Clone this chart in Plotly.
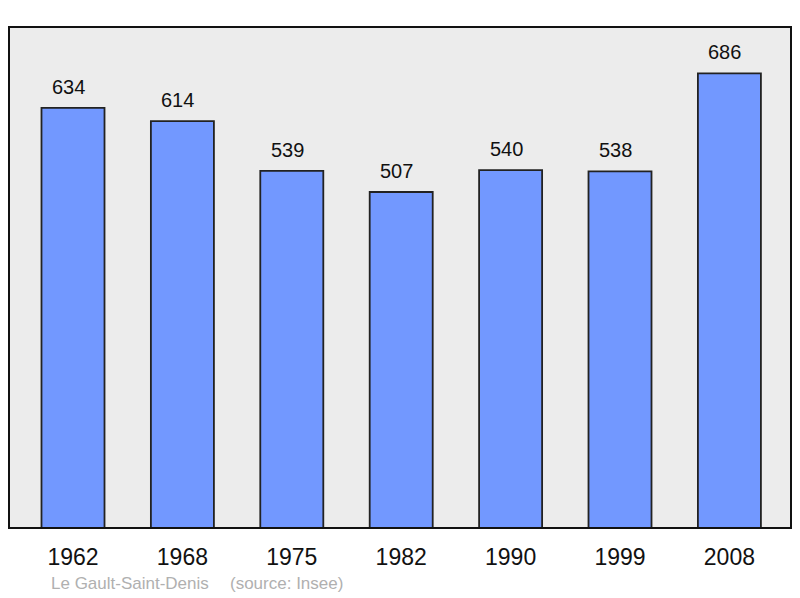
import plotly.graph_objects as go

years = ["1962", "1968", "1975", "1982", "1990", "1999", "2008"]
population = [634, 614, 539, 507, 540, 538, 686]
footer_town = "Le Gault-Saint-Denis"
footer_source = "(source: Insee)"

xs = list(range(len(years)))

fig = go.Figure()
fig.add_trace(go.Bar(
    x=xs, y=population, width=0.576,
    marker=dict(color="#7298ff", line=dict(color="#222222", width=1.8)),
    hoverinfo="skip",
))

for xi, v in zip(xs, population):
    fig.add_annotation(x=xi, y=v, text=str(v), showarrow=False,
                       yanchor="bottom", yshift=8, xshift=-4.5,
                       font=dict(size=20, color="#111111"))

fig.add_shape(type="rect", xref="paper", yref="paper", x0=0, y0=0, x1=1, y1=1,
              line=dict(color="#111111", width=2), layer="above")

fig.add_annotation(xref="paper", yref="paper", x=(49-9)/782, y=-(583-528)/501,
                   xanchor="left", yanchor="middle", showarrow=False,
                   text=footer_town, font=dict(size=17, color="#b0b0b0"))
fig.add_annotation(xref="paper", yref="paper", x=(228-9)/782, y=-(583-528)/501,
                   xanchor="left", yanchor="middle", showarrow=False,
                   text=footer_source, font=dict(size=17, color="#b0b0b0"))

fig.update_layout(
    width=792, height=590,
    margin=dict(l=1, r=9, t=19, b=70),
    paper_bgcolor="white", plot_bgcolor="#ececec",
    font=dict(family="Liberation Sans, Arial, sans-serif", color="#111111"),
    showlegend=False,
    xaxis=dict(range=[-0.585, 6.563], tickmode="array", tickvals=xs, ticktext=years,
               showgrid=False, zeroline=False, ticks="outside", ticklen=8,
               tickcolor="rgba(0,0,0,0)", tickfont=dict(size=23, color="#111111"),
               fixedrange=True),
    yaxis=dict(range=[0, 756], showgrid=False, zeroline=False, showticklabels=False,
               fixedrange=True),
)

fig.write_html("out.html")
